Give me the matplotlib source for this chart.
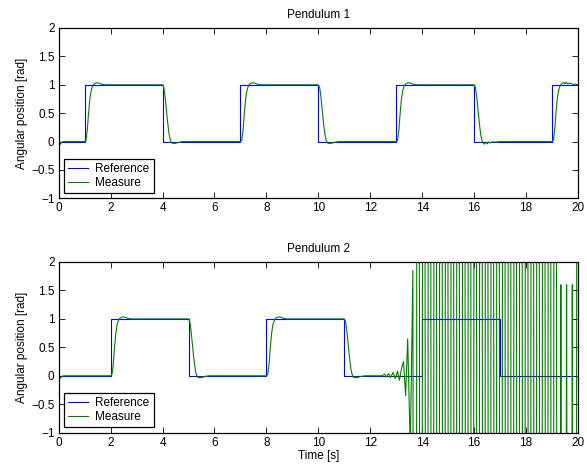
import numpy as np
import matplotlib
matplotlib.use('Agg')
import matplotlib.pyplot as plt

plt.rcParams['font.family'] = ['Liberation Sans', 'DejaVu Sans']
plt.rcParams['font.size'] = 8.5

# reference signals (step values, held until next time)
ref1_t = [0, 1, 4, 7, 10, 13, 16, 19, 20]
ref1_y = [0, 1, 0, 1, 0, 1, 0, 1, 1]
ref2_t = [0, 2, 5, 8, 11, 14, 17, 20]
ref2_y = [0, 1, 0, 1, 0, 1, 0, 0]

start_dt = [0, 0.03, 0.06, 0.12, 0.2]
start_y = [0.1, -0.02, -0.05, -0.01, 0]

rise_dt = [0, 0.05, 0.10, 0.15, 0.20, 0.25, 0.30, 0.35, 0.45, 0.55, 0.65, 0.80]
rise_y = [0, 0.02, 0.20, 0.50, 0.75, 0.90, 0.97, 1.01, 1.035, 1.03, 1.01, 1.0]
fall_dt = [0, 0.05, 0.10, 0.15, 0.20, 0.25, 0.30, 0.35, 0.45, 0.55, 0.65, 0.80]
fall_y = [1, 0.95, 0.78, 0.55, 0.32, 0.13, 0.02, -0.025, -0.035, -0.025, -0.01, 0]

fall_ripple_dt = [0, 0.05, 0.10, 0.15, 0.20, 0.25, 0.30, 0.35, 0.40, 0.45,
                  0.50, 0.55, 0.60, 0.70, 0.80, 1.0]
fall_ripple_y = [1, 0.95, 0.78, 0.55, 0.32, 0.13, 0.02, -0.03, -0.045, -0.01,
                 -0.04, -0.005, -0.025, -0.005, -0.01, 0]
rise_ripple_dt = [0, 0.05, 0.10, 0.15, 0.20, 0.25, 0.30, 0.35, 0.45, 0.50,
                  0.55, 0.60, 0.70, 0.80, 0.90, 1.0]
rise_ripple_y = [0, 0.02, 0.20, 0.50, 0.75, 0.90, 0.97, 1.01, 1.04, 1.02,
                 1.045, 1.015, 1.03, 1.005, 1.01, 1.0]

steps1 = [(1, 'rise'), (4, 'fall'), (7, 'rise'), (10, 'fall'),
          (13, 'rise'), (16, 'fall_ripple'), (19, 'rise_ripple')]
steps2 = [(2, 'rise'), (5, 'fall'), (8, 'rise'), (11, 'fall')]

# pendulum 2 going unstable after t = 12.4
wiggle_t = [12.45, 12.55, 12.62, 12.70, 12.78, 12.88, 12.96, 13.05, 13.12,
            13.20, 13.28, 13.36, 13.44, 13.54, 13.64, 13.73]
wiggle_y = [0, 0.03, -0.02, 0.04, -0.03, 0.06, -0.05, 0.08, -0.08,
            0.12, 0.25, -0.35, 0.65, -1.3, 1.85, -30]
burst_t = [13.84, 13.95, 14.06, 14.17, 14.28, 14.39, 14.50, 14.61, 14.72, 14.83,
           14.94, 15.05, 15.16, 15.27, 15.38, 15.49, 15.60, 15.71, 15.82, 15.93,
           16.04, 16.15, 16.26, 16.37, 16.48, 16.59, 16.70, 16.81, 16.92, 17.03,
           17.14, 17.25, 17.36, 17.47, 17.58, 17.69, 17.80, 17.91, 18.02, 18.13,
           18.24, 18.35, 18.46, 18.57, 18.68, 18.79, 18.90, 19.01, 19.12, 19.23,
           19.34, 19.45, 19.56, 19.67, 19.78, 19.89, 20.00]
burst_y = [30, -30, 30, -30, 30, -30, 30, -30, 30, -30,
           30, -30, 30, -30, 30, -30, 30, -30, 30, -30,
           30, -30, 30, -30, 30, -30, 30, -30, 30, -30,
           30, -30, 30, -30, 30, -30, 30, -30, 30, -30,
           30, -30, 30, -30, 30, -30, 30, -30, 30, -30,
           1.6, -30, 1.6, -30, 1.6, -30, 30]

shapes = {'rise': (rise_dt, rise_y), 'fall': (fall_dt, fall_y),
          'rise_ripple': (rise_ripple_dt, rise_ripple_y),
          'fall_ripple': (fall_ripple_dt, fall_ripple_y)}


def build_measure(steps):
    t = list(start_dt)
    y = list(start_y)
    for t0, kind in steps:
        dts, ys = shapes[kind]
        t += [t0 + d for d in dts]
        y += list(ys)
    return t, y


m1_t, m1_y = build_measure(steps1)
m1_t.append(20)
m1_y.append(1.0)
m2_t, m2_y = build_measure(steps2)
m2_t += wiggle_t + burst_t
m2_y += wiggle_y + burst_y

xticks = list(range(0, 21, 2))
yticks = [-1, -0.5, 0, 0.5, 1, 1.5, 2]
ytick_labels = ['\u22121', '\u22120.5', '0', '0.5', '1', '1.5', '2']

fig = plt.figure(figsize=(5.87, 4.65), dpi=100)
ax1 = fig.add_axes([0.100, 0.5735, 0.8847, 0.3663])
ax2 = fig.add_axes([0.100, 0.0695, 0.8847, 0.3671])

panels = [(ax1, 'Pendulum 1', ref1_t, ref1_y, m1_t, m1_y),
          (ax2, 'Pendulum 2', ref2_t, ref2_y, m2_t, m2_y)]
for ax, title, rt, ry, mt, my in panels:
    ax.plot(rt, ry, color='#0000ff', lw=0.8, drawstyle='steps-post', label='Reference')
    ax.plot(mt, my, color='#008000', lw=0.8, label='Measure')
    ax.set_xlim(0, 20)
    ax.set_ylim(-1, 2)
    ax.set_xticks(xticks)
    ax.set_xticklabels([str(v) for v in xticks])
    ax.set_yticks(yticks)
    ax.set_yticklabels(ytick_labels)
    ax.tick_params(direction='in', top=True, right=True, length=4, width=0.6, pad=3)
    for s in ax.spines.values():
        s.set_linewidth(0.9)
    ax.set_title(title, fontsize=8.5, pad=7)
    ax.set_ylabel('Angular position [rad]', labelpad=2)
    leg = ax.legend(loc='lower left', fancybox=False, edgecolor='black',
                    framealpha=1, borderaxespad=0.45, handlelength=1.7,
                    handletextpad=0.6, borderpad=0.35, labelspacing=0.15)
    leg.get_frame().set_linewidth(0.9)

ax2.set_xlabel('Time [s]', labelpad=1)

fig.savefig('out.png', dpi=100)
